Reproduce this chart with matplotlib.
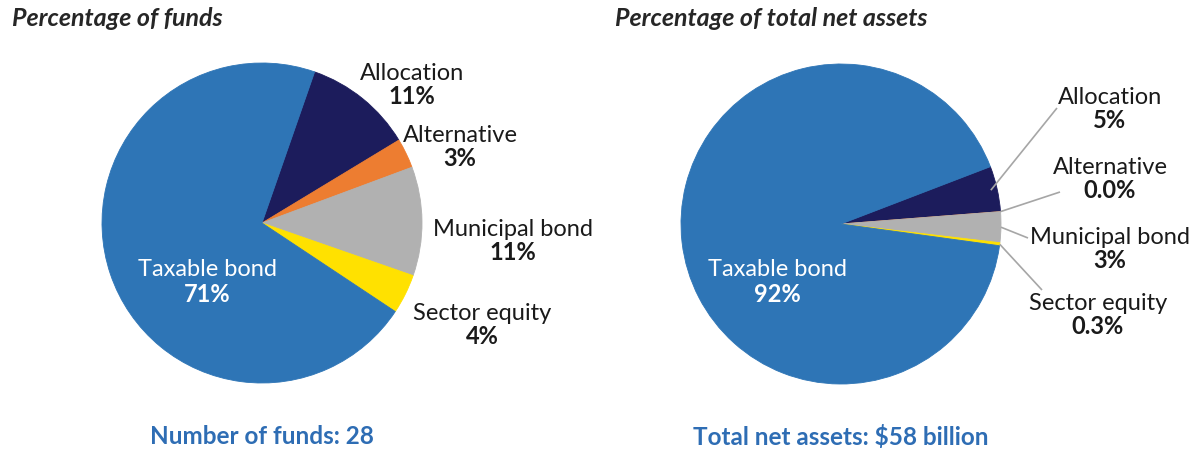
import numpy as np
import matplotlib
matplotlib.use("Agg")
import matplotlib.pyplot as plt
from matplotlib import font_manager

# ---------------- data ----------------
categories = ["Allocation", "Alternative", "Municipal bond", "Sector equity", "Taxable bond"]
funds_pct = [11, 3, 11, 4, 71]
funds_labels = ["11%", "3%", "11%", "4%", "71%"]
assets_pct = [4.6, 0.0, 3.1, 0.3, 92.0]
assets_labels = ["5%", "0.0%", "3%", "0.3%", "92%"]
left_title = "Percentage of funds"
right_title = "Percentage of total net assets"
left_footer = "Number of funds: 28"
right_footer = "Total net assets: $58 billion"

colors = ["#1C1C5C", "#ED7D31", "#B1B1B1", "#FFE100", "#2E75B6"]

W, H = 1193, 450
avail = {f.name for f in font_manager.fontManager.ttflist}
base_font = "Lato" if "Lato" in avail else "DejaVu Sans"
plt.rcParams["font.family"] = [base_font, "DejaVu Sans"]

fig = plt.figure(figsize=(W / 100, H / 100), dpi=100)
ax = fig.add_axes([0, 0, 1, 1])


def Y(ypix):
    return H - ypix


R = 160
lc = (262, Y(223))
rc = (841, Y(224))

wl, _ = ax.pie(funds_pct, colors=colors, startangle=70.8, counterclock=False,
               center=lc, radius=R, wedgeprops=dict(linewidth=0.6))
wedges_r, _ = ax.pie(assets_pct, colors=colors, startangle=21, counterclock=False,
                     center=rc, radius=R, wedgeprops=dict(linewidth=0.6))
for w in list(wl) + list(wedges_r):
    w.set_edgecolor(w.get_facecolor())

ax.set_xlim(0, W)
ax.set_ylim(0, H)
ax.set_aspect("equal")
ax.axis("off")

txt_color = "#1A1A1A"
fs = 17
gap = 24

# left pie labels (name above bold percentage)
left_pos = [(412, 73), (460, 135), (513, 229), (482, 313), (207, 270)]
for i, (x, y) in enumerate(left_pos):
    col = "white" if i == 4 else txt_color
    ax.text(x, Y(y), categories[i], ha="center", va="center", fontsize=fs, color=col)
    ax.text(x, Y(y + gap), funds_labels[i], ha="center", va="center", fontsize=fs,
            fontweight="bold", color=col)

# right pie labels with leader lines
right_pos = [(1110, 97), (1110, 167), (1110, 237), (1098, 303), (777, 270)]
line_end = [(1057, 108), (1060, 192), (1028, 238), (1042, 290)]
for i, (x, y) in enumerate(right_pos):
    col = "white" if i == 4 else txt_color
    ax.text(x, Y(y), categories[i], ha="center", va="center", fontsize=fs, color=col)
    ax.text(x, Y(y + gap), assets_labels[i], ha="center", va="center", fontsize=fs,
            fontweight="bold", color=col)
    if i < 4:
        w = wedges_r[i]
        mid = np.deg2rad((w.theta1 + w.theta2) / 2)
        r0 = R * (0.96 if i == 0 else 1.0)
        sx = rc[0] + r0 * np.cos(mid)
        sy = rc[1] + r0 * np.sin(mid)
        ex, ey = line_end[i]
        ax.plot([sx, ex], [sy, Y(ey)], color="#A6A6A6", lw=1.2, solid_capstyle="butt")

# titles
ax.text(12, Y(18), left_title, ha="left", va="center", fontsize=18,
        fontweight="bold", fontstyle="italic", color="#262626")
ax.text(615, Y(18), right_title, ha="left", va="center", fontsize=18,
        fontweight="bold", fontstyle="italic", color="#262626")

# footers
blue = "#2E6DB4"
ax.text(262, Y(437), left_footer, ha="center", va="center", fontsize=17.5,
        fontweight="bold", color=blue)
ax.text(841, Y(437), right_footer, ha="center", va="center", fontsize=17.5,
        fontweight="bold", color=blue)

fig.savefig("out.png", dpi=100)
